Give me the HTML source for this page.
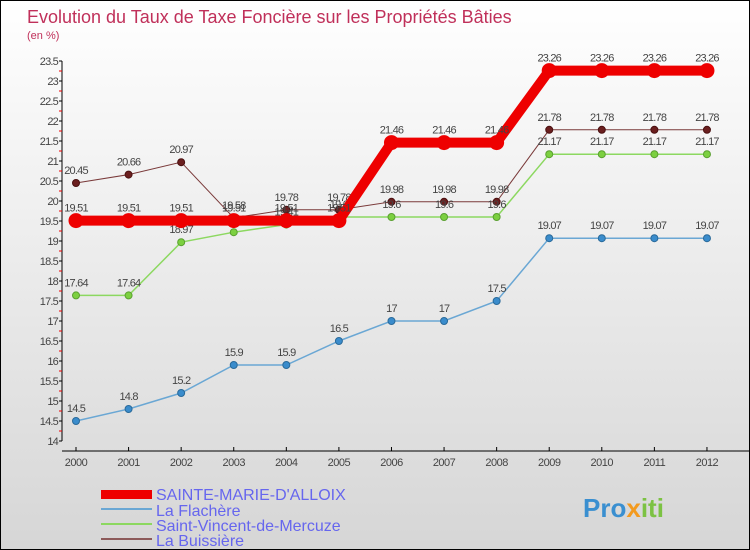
<!DOCTYPE html>
<html><head><meta charset="utf-8"><style>
body{margin:0}
#c{width:748px;height:548px;border:1px solid #000;background:linear-gradient(#fff,#d6d6d6);position:relative;font-family:"Liberation Sans",sans-serif;overflow:hidden}
</style></head><body>
<div id="c">
<svg id="s" width="748" height="548" style="position:absolute;left:0;top:0">
<text x="26" y="22" font-size="18" fill="#c0305a">Evolution du Taux de Taxe Foncière sur les Propriétés Bâties</text>
<text x="26" y="38" font-size="11" fill="#c0305a">(en %)</text>
<g id="ax"></g><g id="ser"></g>
<g>
<rect x="100" y="489" width="51" height="9" fill="#e00"/>
<text x="155" y="499" font-size="16" fill="#6666ee">SAINTE-MARIE-D'ALLOIX</text>
<rect x="100" y="507" width="51" height="2" fill="#6aa7d4"/>
<text x="155" y="515" font-size="16" fill="#6666ee">La Flachère</text>
<rect x="100" y="522" width="51" height="2" fill="#8cd860"/>
<text x="155" y="530" font-size="16" fill="#6666ee">Saint-Vincent-de-Mercuze</text>
<rect x="100" y="537" width="51" height="2" fill="#8c5a5a"/>
<text x="155" y="545" font-size="16" fill="#6666ee">La Buissière</text>
</g>
<g><text x="582" y="516" font-size="26" font-weight="bold" fill="#3a8fd0">Pro<tspan fill="#f39a1e">x</tspan><tspan fill="#7cc243">iti</tspan></text></g>
</svg></div>
<script>
const years=[2000,2001,2002,2003,2004,2005,2006,2007,2008,2009,2010,2011,2012];
const yTicks=[14,14.5,15,15.5,16,16.5,17,17.5,18,18.5,19,19.5,20,20.5,21,21.5,22,22.5,23,23.5];
const sainteMarie=[19.51,19.51,19.51,19.51,19.51,19.51,21.46,21.46,21.46,23.26,23.26,23.26,23.26];
const laFlachere=[14.5,14.8,15.2,15.9,15.9,16.5,17,17,17.5,19.07,19.07,19.07,19.07];
const saintVincent=[17.64,17.64,18.97,19.22,19.41,19.6,19.6,19.6,19.6,21.17,21.17,21.17,21.17];
const laBuissiere=[20.45,20.66,20.97,19.58,19.78,19.78,19.98,19.98,19.98,21.78,21.78,21.78,21.78];
const NS="http://www.w3.org/2000/svg";
const X=i=>75+i*52.58, Y=v=>440-(v-14)*40;
function mk(t,a,p){const e=document.createElementNS(NS,t);for(const k in a)e.setAttribute(k,a[k]);p.appendChild(e);return e;}
const ax=document.getElementById('ax'),ser=document.getElementById('ser');
let l=mk('line',{x1:61,y1:Y(23.5),x2:61,y2:Y(14),stroke:'#000'},ax);


l=mk('line',{x1:61,y1:450,x2:748,y2:450,stroke:'#000'},ax);


yTicks.forEach(v=>{
 mk('line',{x1:58,x2:61,y1:Y(v),y2:Y(v),stroke:'#000'},ax);
 if(v<23.5)mk('line',{x1:58,x2:61,y1:Y(v+0.25),y2:Y(v+0.25),stroke:'#e00'},ax);
 const t=mk('text',{x:57,y:Y(v)+4,'font-size':11,'text-anchor':'end',fill:'#444','letter-spacing':'-0.8'},ax);
 t.textContent=v;
 
 
});
years.forEach((y,i)=>{
 mk('line',{x1:X(i),x2:X(i),y1:446,y2:450,stroke:'#000'},ax);
 const t=mk('text',{x:X(i),y:465,'font-size':11,'text-anchor':'middle',fill:'#444','letter-spacing':'-0.5'},ax);
 t.textContent=y;
 
 
});
function series(d,col,w,r,name){
 const g=mk('g',{},ser);
 
 
 mk('polyline',{points:d.map((v,i)=>X(i)+','+Y(v)).join(' '),fill:'none',stroke:col.l,'stroke-width':w},g);
 d.forEach((v,i)=>{
  const c=mk('circle',{cx:X(i),cy:Y(v),r:r,fill:col.p,stroke:col.s,'stroke-width':1},g);
  
  
  const t=mk('text',{x:X(i),y:Y(v)-9,'font-size':11,'text-anchor':'middle',fill:'#444','letter-spacing':'-0.8'},g);
  t.textContent=v;
  
  
 });
}
series(laBuissiere,{l:'#7a3a3a',p:'#6b1f1f',s:'#4a1010'},1,3.5,'la-buissiere');
series(saintVincent,{l:'#8cd860',p:'#7cd040',s:'#5aa030'},1.5,3.5,'saint-vincent');
series(laFlachere,{l:'#6aa7d4',p:'#3a8ccc',s:'#2a6a9a'},1.5,3.5,'la-flachere');
series(sainteMarie,{l:'#e00',p:'#e00',s:'#e00'},10,7,'sainte-marie');
</script>
</body></html>
